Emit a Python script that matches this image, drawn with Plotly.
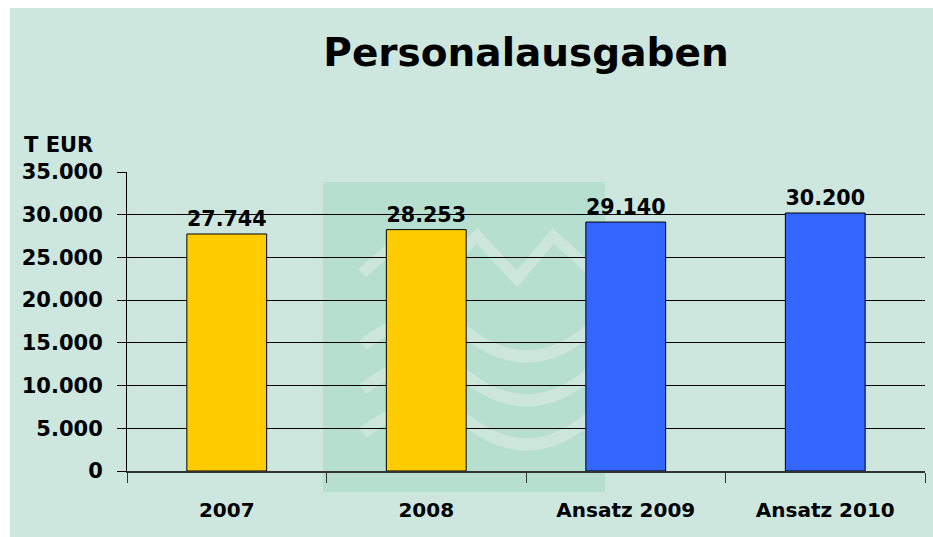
import plotly.graph_objects as go

# Personalausgaben in T EUR
categories = ["2007", "2008", "Ansatz 2009", "Ansatz 2010"]
values = [27744, 28253, 29140, 30200]
bar_colors = ["#FFCC00", "#FFCC00", "#3366FF", "#3366FF"]
y_ticks = [0, 5000, 10000, 15000, 20000, 25000, 30000, 35000]

W, H = 933, 537
L, R, T, B = 127, 8, 172, 66
PW, PH = W - L - R, H - T - B


def px(x):
    # pixel x -> paper x
    return (x - L) / PW


def py(y):
    # pixel y -> paper y
    return (H - B - y) / PH


FONT = "DejaVu Sans"
BG = "#cde6de"
MARK = "#b6dfd0"
MARK_LINE = "#cce6dc"

fig = go.Figure()
fig.add_trace(go.Bar(
    x=categories,
    y=values,
    marker=dict(color=bar_colors, line=dict(color="black", width=1)),
    texttemplate="%{y:,.0f}",
    textposition="outside",
    textfont=dict(size=22, color="black", family=FONT, weight="bold"),
    cliponaxis=False,
    showlegend=False,
))

shapes = [
    # chart background, leaving the white margin at top and left
    dict(type="rect", xref="paper", yref="paper", x0=px(10), x1=px(W + 10),
         y0=py(H + 10), y1=py(8), fillcolor=BG, line=dict(width=0), layer="below"),
    # watermark logo
    dict(type="rect", xref="paper", yref="paper", x0=px(323), x1=px(605),
         y0=py(492), y1=py(182), fillcolor=MARK, line=dict(width=0), layer="below"),
]

zig = [(362, 273), (400, 240), (440, 272), (477, 236), (517, 279), (553, 236), (600, 278)]
path = "M " + " L ".join(f"{px(a):.4f},{py(b):.4f}" for a, b in zig)
shapes.append(dict(type="path", xref="paper", yref="paper", path=path,
                   line=dict(color=MARK_LINE, width=11), layer="below"))
for off in (0, 44, 88):
    p = (f"M {px(363):.4f},{py(345 + off):.4f} "
         f"Q {px(420):.4f},{py(300 + off):.4f} {px(467):.4f},{py(333 + off):.4f} "
         f"Q {px(533):.4f},{py(385 + off):.4f} {px(598):.4f},{py(322 + off):.4f}")
    shapes.append(dict(type="path", xref="paper", yref="paper", path=p,
                       line=dict(color=MARK_LINE, width=12), layer="below"))

fig.update_layout(
    width=W,
    height=H,
    margin=dict(l=L, r=R, t=T, b=B),
    paper_bgcolor="white",
    plot_bgcolor="rgba(0,0,0,0)",
    separators=",.",
    bargap=0.6,
    font=dict(family=FONT, color="black"),
    title=dict(text="Personalausgaben", x=526 / W, xanchor="center",
               y=1 - 52 / H, yanchor="middle", yref="container",
               font=dict(size=39, family=FONT, color="black", weight="bold")),
    shapes=shapes,
    annotations=[dict(text="T EUR", xref="paper", yref="paper",
                      x=px(22), y=py(145), xanchor="left", yanchor="middle",
                      showarrow=False,
                      font=dict(size=21, family=FONT, weight="bold"))],
)

fig.update_xaxes(
    type="category",
    showgrid=False,
    showline=True,
    linecolor="#333333",
    linewidth=2,
    ticks="outside",
    tickson="boundaries",
    ticklen=10,
    tickcolor="#333333",
    tickfont=dict(size=20, family=FONT, weight="bold"),
    ticklabelstandoff=20,
)
fig.update_yaxes(
    range=[0, 35000],
    tickvals=y_ticks,
    tickformat=",.0f",
    showgrid=True,
    gridcolor="black",
    gridwidth=1,
    zeroline=False,
    showline=True,
    linecolor="black",
    linewidth=1,
    ticks="outside",
    ticklen=9,
    tickcolor="black",
    tickfont=dict(size=21, family=FONT, weight="bold"),
    ticklabelstandoff=10,
)

# drop the default page margin so the figure fills the window
fig.write_html("out.html", config={"displayModeBar": False},
               post_script="document.body.style.margin = '0';")
